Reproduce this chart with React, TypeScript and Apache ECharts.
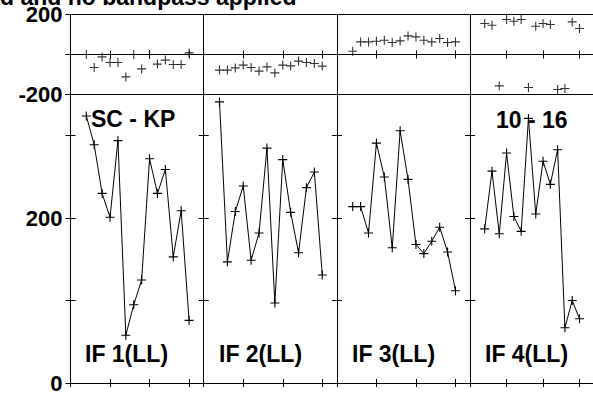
import React, { useEffect, useRef } from "react";
import * as echarts from "echarts";

// sample positions (time index)
const sampleIndex = [2, 3, 4, 5, 6, 7, 8, 9, 10, 11, 12, 13, 14, 15];

// amplitude per IF
const amp1 = [324, 289, 230, 201, 294, 58, 95, 125, 272, 230, 259, 153, 209, 76];
const amp2 = [341, 147, 208, 239, 149, 182, 285, 97, 271, 207, 158, 237, 256, 131];
const amp3 = [214, 214, 182, 291, 250, 164, 306, 247, 168, 157, 172, 189, 159, 112];
const amp4 = [187, 257, 181, 279, 202, 184, 321, 205, 269, 241, 283, 67, 100, 78];

// phase per IF
const phase1 = [0, -65, -12, -40, -40, -112, 0, -72, 0, -48, -28, -50, -50, 8];
const phase2 = [-78, -78, -67, -53, -65, -83, -62, -92, -53, -57, -33, -40, -45, -58];
const phase3 = [16, 63, 63, 66, 71, 60, 68, 93, 88, 71, 63, 80, 60, 63];
const phase4 = [155, 146, -157, 175, 166, 175, -165, 141, 155, 150, -175, -170, 163, 130];

const panelLabels = ["IF 1(LL)", "IF 2(LL)", "IF 3(LL)", "IF 4(LL)"];
const titleText = "d and no bandpass applied";
const baselineText = "SC - KP";
const timeText = "10 - 16";

const phaseShownLabels = [200, -200];
const ampShownLabels = [0, 200];

const ampSets = [amp1, amp2, amp3, amp4];
const phaseSets = [phase1, phase2, phase3, phase4];

const FONT = '"Liberation Sans", Arial, Helvetica, sans-serif';

export default function App() {
  const ref = useRef<HTMLDivElement>(null);

  useEffect(() => {
    if (!ref.current) return;
    const chart = echarts.init(ref.current, undefined, { renderer: "svg" });

    const L0 = 70.5;
    const W = 133.2;
    const phaseTop = 14.5;
    const phaseH = 80;
    const ampTop = 94.5;
    const ampH = 288.5;

    const grids: any[] = [];
    const xAxes: any[] = [];
    const yAxes: any[] = [];
    const series: any[] = [];

    const axisLine = { show: true, lineStyle: { color: "#000", width: 1 } };
    const tick = (len: number) => ({
      show: true,
      inside: true,
      length: len,
      lineStyle: { color: "#000", width: 1 },
    });
    const cross = "path://M0,4L8,4M4,0L4,8";

    for (let p = 0; p < 4; p++) {
      const left = L0 + p * W;
      grids.push({ left, top: phaseTop, width: W, height: phaseH, show: false });
      grids.push({ left, top: ampTop, width: W, height: ampH, show: false });

      for (let g = 0; g < 2; g++) {
        const gi = p * 2 + g;
        ["bottom", "top"].forEach((pos) => {
          xAxes.push({
            type: "value",
            gridIndex: gi,
            position: pos,
            min: 0,
            max: 16.85,
            interval: 5,
            axisLine,
            axisTick: tick(4),
            axisLabel: { show: false },
            splitLine: { show: false },
          });
        });
        ["left", "right"].forEach((pos) => {
          const isPhase = g === 0;
          const showLabel = p === 0 && pos === "left";
          yAxes.push({
            type: "value",
            gridIndex: gi,
            position: pos,
            min: isPhase ? -200 : 0,
            max: isPhase ? 200 : 350,
            interval: isPhase ? 200 : 100,
            axisLine,
            axisTick: tick(5),
            axisLabel: {
              show: showLabel,
              margin: 8,
              color: "#000",
              fontWeight: "bold",
              fontSize: 22,
              fontFamily: FONT,
              formatter: (v: number) => {
                const shown = isPhase ? phaseShownLabels : ampShownLabels;
                return shown.includes(v) ? String(v) : "";
              },
            },
            splitLine: {
              show: isPhase && pos === "left",
              lineStyle: { color: "#000", width: 1 },
            },
          });
        });
      }

      const phaseGrid = p * 2;
      const ampGrid = p * 2 + 1;
      series.push({
        type: "scatter",
        xAxisIndex: phaseGrid * 2,
        yAxisIndex: phaseGrid * 2,
        data: sampleIndex.map((x, i) => [x, phaseSets[p][i]]),
        symbol: cross,
        symbolSize: 9,
        itemStyle: { color: "none", borderColor: "#000", borderWidth: 1.1 },
        silent: true,
      });
      series.push({
        type: "line",
        xAxisIndex: ampGrid * 2,
        yAxisIndex: ampGrid * 2,
        data: sampleIndex.map((x, i) => [x, ampSets[p][i]]),
        symbol: cross,
        symbolSize: 9,
        showAllSymbol: true,
        lineStyle: { color: "#000", width: 1 },
        itemStyle: { color: "none", borderColor: "#000", borderWidth: 1.1 },
        silent: true,
      });
    }

    const textStyle = (text: string, size: number) => ({
      text,
      fill: "#000",
      font: `bold ${size}px ${FONT}`,
      align: "left",
      verticalAlign: "middle",
    });

    const graphics: any[] = [
      { type: "text", x: 0, y: -3, style: textStyle(titleText, 23), z: 100 },
      { type: "text", x: 91, y: 119, style: textStyle(baselineText, 23), z: 100 },
      { type: "text", x: 496, y: 120, style: textStyle(timeText, 23), z: 100 },
    ];
    const labelX = [85, 219, 352, 485];
    panelLabels.forEach((t, i) => {
      graphics.push({ type: "text", x: labelX[i], y: 354, style: textStyle(t, 23), z: 100 });
    });

    chart.setOption({
      animation: false,
      backgroundColor: "#fff",
      grid: grids,
      xAxis: xAxes,
      yAxis: yAxes,
      series,
      graphic: graphics,
    });

    return () => chart.dispose();
  }, []);

  return (
    <div
      ref={ref}
      style={{ position: "fixed", left: 0, top: 0, width: 593, height: 394 }}
    />
  );
}
